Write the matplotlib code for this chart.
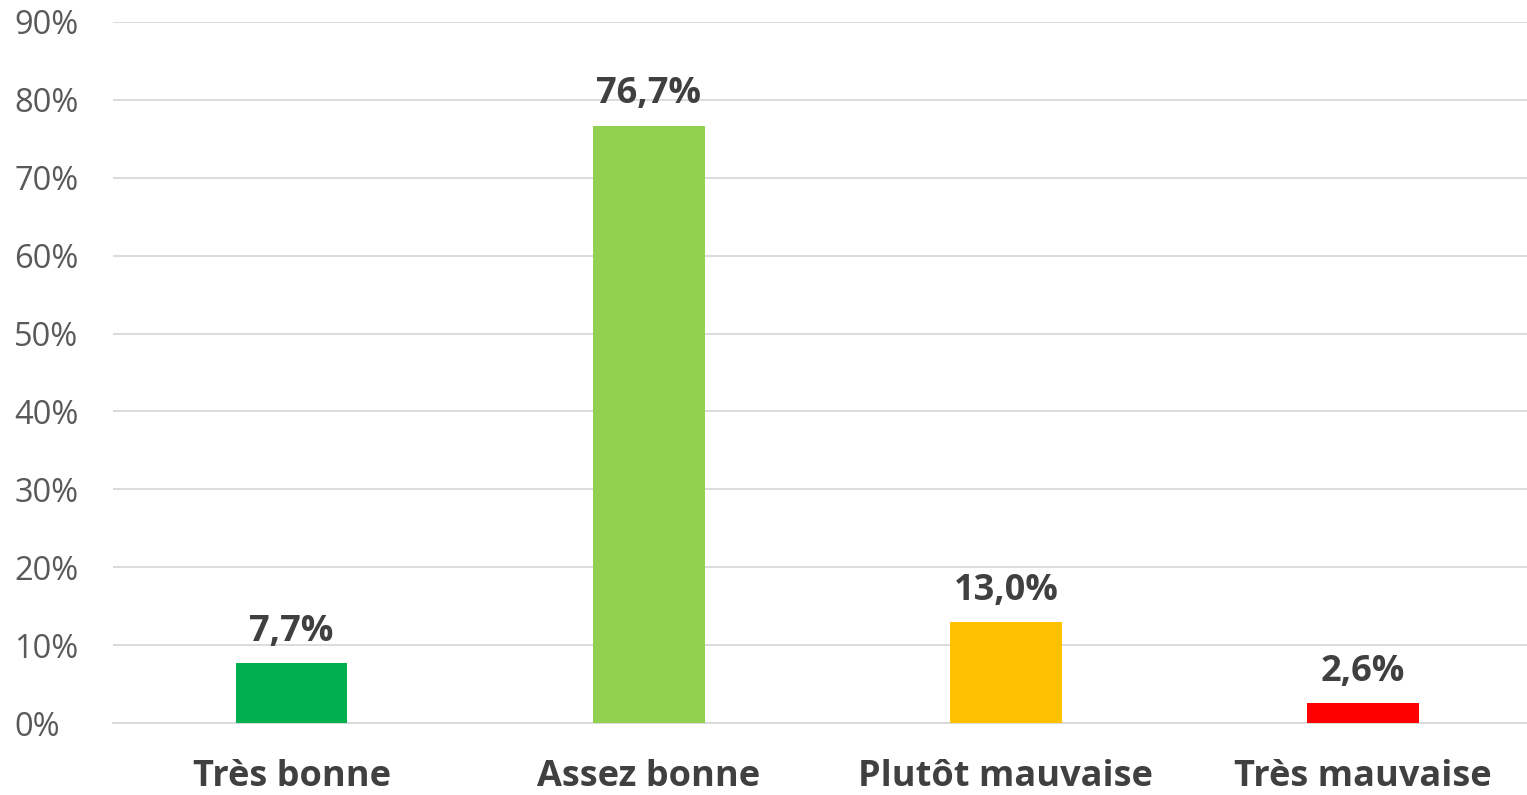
import matplotlib
matplotlib.use("Agg")
import matplotlib.pyplot as plt
from matplotlib.ticker import FuncFormatter

categories = ["Très bonne", "Assez bonne", "Plutôt mauvaise", "Très mauvaise"]
values = [7.7, 76.7, 13.0, 2.6]
labels = ["7,7%", "76,7%", "13,0%", "2,6%"]
colors = ["#00B050", "#92D050", "#FFC000", "#FF0000"]

plt.rcParams['font.family'] = ['Open Sans', 'DejaVu Sans']

W, H = 1527, 795
fig = plt.figure(figsize=(W/100, H/100), dpi=100)
left, right = 113, 1527
bottom_px, top_px = 723, 22
ax = fig.add_axes([left/W, 1 - bottom_px/H, (right-left)/W, (bottom_px-top_px)/H])

x = list(range(len(categories)))
ax.bar(x, values, width=0.313, color=colors, zorder=3)
for xi, v, lab in zip(x, values, labels):
    ax.text(xi, v + 1.7, lab, ha='center', va='bottom', fontsize=26,
            fontweight='bold', color='#404040')

ax.set_ylim(0, 90)
ax.set_xlim(-0.5, 3.459)
ax.set_yticks(range(0, 91, 10))
ax.yaxis.set_major_formatter(FuncFormatter(lambda v, p: f"{int(v)}%"))
ax.grid(axis='y', color='#D9D9D9', linewidth=1.3, zorder=0)
ax.set_xticks(x)
ax.set_xticklabels(categories, fontsize=26, fontweight='bold', color='#404040')
ax.tick_params(axis='y', labelsize=23.5, labelcolor='#595959', length=0, pad=71)
ax.tick_params(axis='x', length=0, pad=26)
for lab in ax.get_yticklabels():
    lab.set_horizontalalignment('left')
for s in ['top', 'right', 'left']:
    ax.spines[s].set_visible(False)
ax.spines['bottom'].set_color('#D9D9D9')
ax.spines['bottom'].set_linewidth(1.3)

fig.savefig("out.png", dpi=100)
